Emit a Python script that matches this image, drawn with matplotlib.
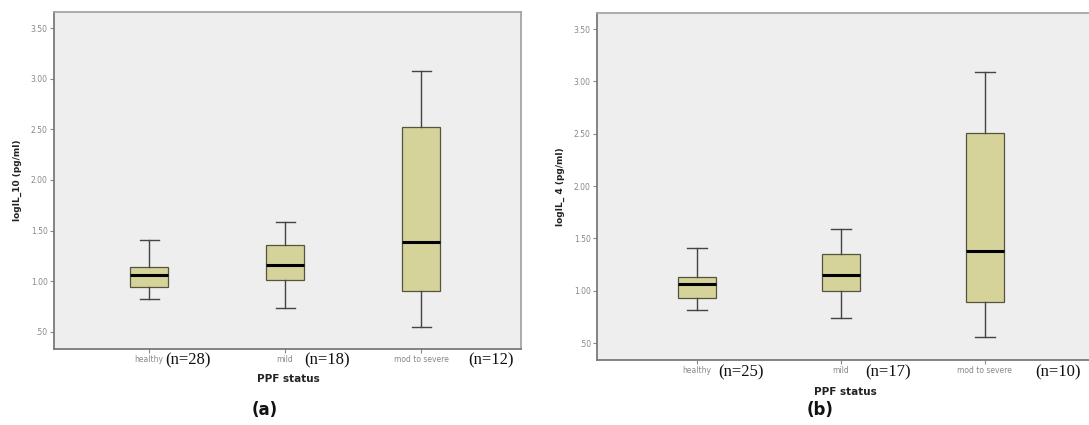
import matplotlib
matplotlib.use("Agg")
import matplotlib.pyplot as plt

categories = ["healthy", "mild", "mod to severe"]

# Panel (a): logIL_10
a_n = ["(n=28)", "(n=18)", "(n=12)"]
a_whislo = [0.83, 0.74, 0.55]
a_q1 = [0.94, 1.01, 0.90]
a_med = [1.06, 1.16, 1.39]
a_q3 = [1.14, 1.36, 2.52]
a_whishi = [1.41, 1.59, 3.08]

# Panel (b): logIL_4
b_n = ["(n=25)", "(n=17)", "(n=10)"]
b_whislo = [0.82, 0.74, 0.56]
b_q1 = [0.93, 1.00, 0.89]
b_med = [1.06, 1.15, 1.38]
b_q3 = [1.13, 1.35, 2.51]
b_whishi = [1.41, 1.59, 3.09]

yticks = [0.5, 1.0, 1.5, 2.0, 2.5, 3.0, 3.5]
yticklabels = [".50", "1.00", "1.50", "2.00", "2.50", "3.00", "3.50"]

W, H = 1089, 425
fig = plt.figure(figsize=(W / 100, H / 100), dpi=100)
fig.patch.set_facecolor("white")

FILL = "#d5d39a"
EDGE = "#55553f"


def make_stats(lo, q1, med, q3, hi):
    return [dict(whislo=lo[i], q1=q1[i], med=med[i], q3=q3[i], whishi=hi[i],
                 fliers=[], label=categories[i]) for i in range(len(lo))]


def draw(rect, stats, xlim, ylim, ylabel, width):
    ax = fig.add_axes(rect)
    ax.set_facecolor("#eeeeee")
    pos = [1, 2, 3]
    ax.bxp(stats, positions=pos, widths=width, capwidths=0.14, patch_artist=True,
           showfliers=False,
           boxprops=dict(facecolor=FILL, edgecolor=EDGE, linewidth=0.9),
           medianprops=dict(color="black", linewidth=2.2),
           whiskerprops=dict(color="#444444", linewidth=1.0),
           capprops=dict(color="#444444", linewidth=1.0))
    ax.set_xlim(*xlim)
    ax.set_ylim(*ylim)
    ax.set_yticks(yticks)
    ax.set_yticklabels(yticklabels, fontsize=5.5, color="#888888")
    ax.set_xticks(pos)
    ax.set_xticklabels(categories, fontsize=5.5, color="#888888")
    ax.tick_params(axis="both", length=3, width=0.8, color="#888888", pad=1.5)
    ax.set_ylabel(ylabel, fontsize=6.5, fontweight="bold", color="#222222", labelpad=6)
    for s in ["left", "bottom"]:
        ax.spines[s].set_color("#7a7a7a")
        ax.spines[s].set_linewidth(1.3)
    for s in ["top", "right"]:
        ax.spines[s].set_color("#a5a5a5")
        ax.spines[s].set_linewidth(1.3)
    return ax


# left panel: frame x 54..521, y 12..349
axA = draw([54 / W, 1 - 349 / H, (521 - 54) / W, (349 - 12) / H],
           make_stats(a_whislo, a_q1, a_med, a_q3, a_whishi),
           (0.301, 3.735), (0.332, 3.658), "logIL_10 (pg/ml)", 0.275)
# right panel: frame x 597..1100, y 13..360
axB = draw([597 / W, 1 - 360 / H, (1100 - 597) / W, (360 - 13) / H],
           make_stats(b_whislo, b_q1, b_med, b_q3, b_whishi),
           (0.306, 3.80), (0.338, 3.653), "logIL_ 4 (pg/ml)", 0.265)

# sample-size annotations
serif = ["Liberation Serif", "DejaVu Serif"]
for x, t in zip([165, 304, 468], a_n):
    fig.text(x / W, 1 - 360 / H, t, fontsize=12, family=serif, va="center", ha="left", color="#111111")
for x, t in zip([718, 865, 1035], b_n):
    fig.text(x / W, 1 - 372 / H, t, fontsize=12, family=serif, va="center", ha="left", color="#111111")

fig.text(288 / W, 1 - 379 / H, "PPF status", fontsize=7.5, fontweight="bold", ha="center", va="center", color="#222222")
fig.text(845 / W, 1 - 392 / H, "PPF status", fontsize=7.5, fontweight="bold", ha="center", va="center", color="#222222")
fig.text(265 / W, 1 - 410 / H, "(a)", fontsize=12, fontweight="bold", ha="center", va="center", color="#111111")
fig.text(820 / W, 1 - 410 / H, "(b)", fontsize=12, fontweight="bold", ha="center", va="center", color="#111111")

fig.savefig("out.png", dpi=100, facecolor="white")
